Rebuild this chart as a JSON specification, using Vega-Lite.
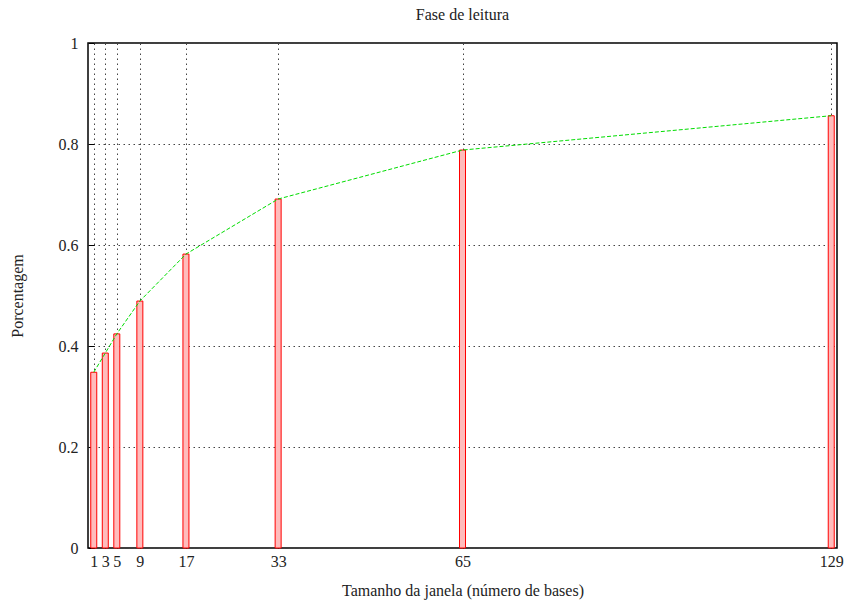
{
  "$schema": "https://vega.github.io/schema/vega-lite/v6.json",
  "width": 749,
  "height": 505,
  "autosize": {"type": "none"},
  "padding": {"left": 88, "top": 43, "right": 15, "bottom": 54},
  "background": "white",
  "config": {
    "font": "Liberation Serif",
    "view": {"stroke": "black", "strokeWidth": 1.5},
    "axis": {
      "labelFont": "Liberation Serif",
      "titleFont": "Liberation Serif",
      "labelFontSize": 16,
      "titleFontSize": 16,
      "labelColor": "#222",
      "titleColor": "#222",
      "titleFontWeight": "normal",
      "domain": false,
      "tickColor": "black",
      "gridColor": "#444",
      "gridDash": [1.5, 3.5],
      "gridWidth": 1
    }
  },
  "title": {
    "text": "Fase de leitura",
    "font": "Liberation Serif",
    "fontSize": 16,
    "fontWeight": "normal",
    "color": "#222",
    "offset": 12
  },
  "data": {
    "values": [
      {"janela": 1, "pct": 0.348},
      {"janela": 3, "pct": 0.386},
      {"janela": 5, "pct": 0.424},
      {"janela": 9, "pct": 0.489},
      {"janela": 17, "pct": 0.582},
      {"janela": 33, "pct": 0.691},
      {"janela": 65, "pct": 0.788},
      {"janela": 129, "pct": 0.856}
    ]
  },
  "layer": [
    {
      "mark": {"type": "bar", "size": 6, "fill": "#ffbcbc", "stroke": "#ff0000", "strokeWidth": 1},
      "encoding": {
        "x": {
          "field": "janela",
          "type": "quantitative",
          "scale": {"domain": [0, 130], "nice": false, "zero": false, "padding": 0},
          "axis": {
            "values": [1, 3, 5, 9, 17, 33, 65, 129],
            "title": "Tamanho da janela (número de bases)",
            "titlePadding": 13,
            "labelPadding": 11,
            "tickSize": -6,
            "labelFlush": false,
            "grid": true
          }
        },
        "y": {
          "field": "pct",
          "type": "quantitative",
          "scale": {"domain": [0, 1], "nice": false},
          "axis": {
            "values": [0, 0.2, 0.4, 0.6, 0.8, 1],
            "format": "~g",
            "title": "Porcentagem",
            "titlePadding": 33,
            "labelPadding": 16,
            "tickSize": -6,
            "grid": true
          }
        }
      }
    },
    {
      "mark": {"type": "line", "color": "#00dd00", "strokeWidth": 1, "strokeDash": [4, 2]},
      "encoding": {
        "x": {"field": "janela", "type": "quantitative"},
        "y": {"field": "pct", "type": "quantitative"}
      }
    }
  ]
}
